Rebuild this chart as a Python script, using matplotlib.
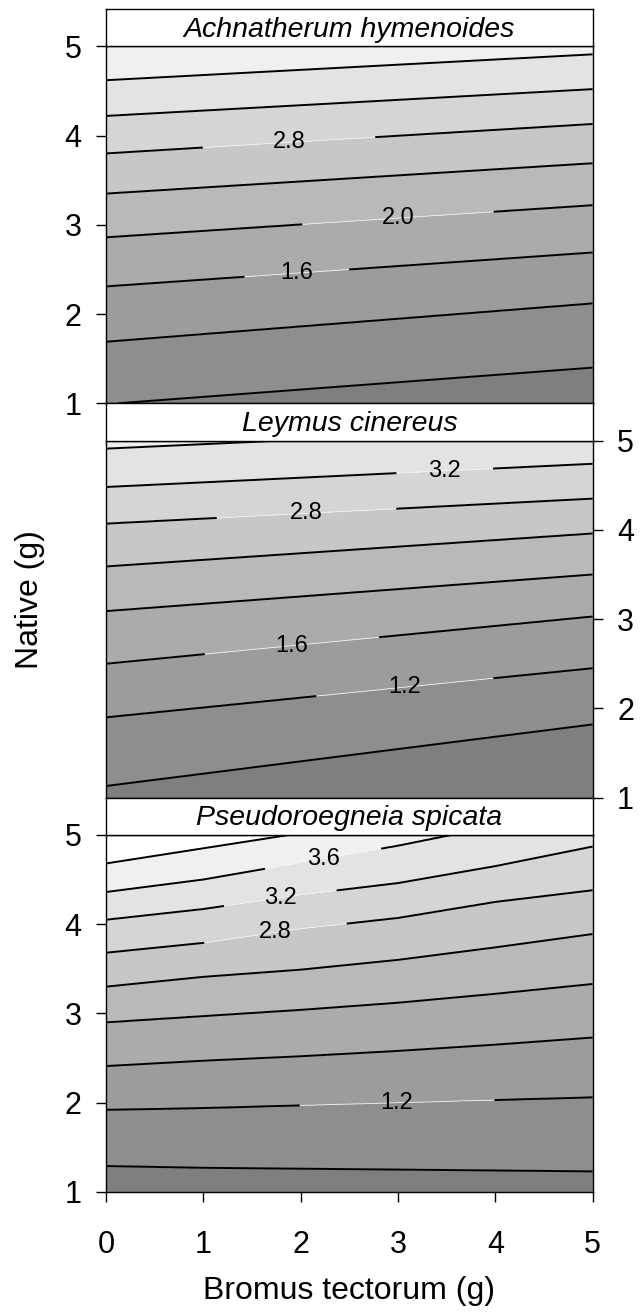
########################################################################################################################
# Contornos - biomassa nativa x Bromus tectorum (tres especies)
########################################################################################################################
import numpy as np
import matplotlib
matplotlib.use('Agg')
from matplotlib import pyplot as plt

plt.rcParams['font.family'] = ['Liberation Sans', 'DejaVu Sans']
########################################################################################################################
# Dados: altura (Native, g) de cada isolinha nos pontos x (Bromus, g)

especies = ['Achnatherum hymenoides', 'Leymus cinereus', 'Pseudoroegneia spicata']

x_ach = [0, 5]
alt_ach = {0.8: [0.99, 1.40], 1.2: [1.69, 2.12], 1.6: [2.31, 2.69], 2.0: [2.86, 3.22],
           2.4: [3.35, 3.69], 2.8: [3.80, 4.13], 3.2: [4.22, 4.52], 3.6: [4.62, 4.91]}

x_ley = [0, 5]
alt_ley = {0.8: [1.13, 1.82], 1.2: [1.90, 2.45], 1.6: [2.50, 3.03], 2.0: [3.09, 3.50],
           2.4: [3.59, 3.96], 2.8: [4.07, 4.35], 3.2: [4.48, 4.74], 3.6: [4.91, 5.16]}

x_pse = [0, 1, 2, 3, 4, 5]
alt_pse = {0.8: [1.29, 1.27, 1.26, 1.25, 1.24, 1.23],
           1.2: [1.92, 1.94, 1.97, 2.00, 2.03, 2.06],
           1.6: [2.41, 2.47, 2.52, 2.58, 2.65, 2.73],
           2.0: [2.90, 2.97, 3.04, 3.12, 3.22, 3.33],
           2.4: [3.30, 3.41, 3.49, 3.60, 3.74, 3.89],
           2.8: [3.68, 3.79, 3.95, 4.07, 4.25, 4.38],
           3.2: [4.05, 4.17, 4.33, 4.46, 4.65, 4.87],
           3.6: [4.36, 4.50, 4.69, 4.88, 5.10, 5.30],
           4.0: [4.68, 4.85, 5.02, 5.20, 5.40, 5.60]}

# rotulos: (nivel, posicao x, largura do vao em pixels)
rot_ach = [(2.8, 1.88, 173), (2.0, 3.00, 192), (1.6, 1.96, 105)]
rot_ley = [(3.2, 3.48, 97), (2.8, 2.06, 180), (1.6, 1.91, 175), (1.2, 3.07, 178)]
rot_pse = [(3.6, 2.23, 118), (3.2, 1.79, 114), (2.8, 1.74, 144), (1.2, 2.99, 195)]

niveis = [0.8, 1.2, 1.6, 2.0, 2.4, 2.8, 3.2, 3.6, 4.0]
cores = ['#7f7f7f', '#8e8e8e', '#9c9c9c', '#ababab', '#b9b9b9',
         '#c7c7c7', '#d5d5d5', '#e3e3e3', '#f0f0f0', '#ffffff']
paineis = [(x_ach, alt_ach, rot_ach), (x_ley, alt_ley, rot_ley), (x_pse, alt_pse, rot_pse)]
########################################################################################################################
# Grade z(x, y) a partir das isolinhas

def grade(xs, alturas):
    lev = sorted(alturas.keys())
    xg = np.linspace(0, 5, 201)
    yg = np.linspace(1, 5, 201)
    H = np.array([np.interp(xg, xs, alturas[n]) for n in lev])
    Z = np.empty((len(yg), len(xg)))
    for j in range(len(xg)):
        h = H[:, j]
        z = np.interp(yg, h, lev)
        s0 = (lev[1] - lev[0]) / (h[1] - h[0])
        s1 = (lev[-1] - lev[-2]) / (h[-1] - h[-2])
        z = np.where(yg < h[0], lev[0] + (yg - h[0]) * s0, z)
        z = np.where(yg > h[-1], lev[-1] + (yg - h[-1]) * s1, z)
        Z[:, j] = z
    return xg, yg, Z

########################################################################################################################
# Figura

W, H_fig = 642, 1316
fig = plt.figure(figsize=(W / 100, H_fig / 100), dpi=100)

esq, dir_ = 106, 592.7
topo0, passo, h_strip, h_plot = 9, 394.3, 37.3, 357

for i, (xs, alturas, rotulos) in enumerate(paineis):
    t_strip = topo0 + i * passo
    t_plot = t_strip + h_strip
    b_plot = t_plot + h_plot

    ax = fig.add_axes([esq / W, 1 - b_plot / H_fig, (dir_ - esq) / W, h_plot / H_fig])
    xg, yg, Z = grade(xs, alturas)
    ax.contourf(xg, yg, Z, levels=[-10] + niveis + [20], colors=cores)
    ax.contour(xg, yg, Z, levels=niveis, colors='#f4f4f4', linewidths=0.6)
    cs = ax.contour(xg, yg, Z, levels=niveis, colors='black', linewidths=1.4)
    for (nv, xl, vao) in rotulos:
        yl = np.interp(xl, xs, alturas[nv])
        txts = ax.clabel(cs, manual=[(xl, yl)], inline=True,
                         inline_spacing=(vao - 33) / 2, fmt='%.1f', fontsize=17)
        for t in txts:
            t.set_rotation(0)
    ax.set_xlim(0, 5)
    ax.set_ylim(1, 5)
    for s in ax.spines.values():
        s.set_linewidth(1.0)
    ax.tick_params(direction='out', length=7.5, width=1.0, labelsize=22, pad=10)
    ax.set_yticks([1, 2, 3, 4, 5])
    if i == 1:
        ax.yaxis.tick_right()
    if i == 2:
        ax.set_xticks([0, 1, 2, 3, 4, 5])
        ax.tick_params(axis='x', pad=20)
    else:
        ax.set_xticks([])

    axs = fig.add_axes([esq / W, 1 - t_plot / H_fig, (dir_ - esq) / W, h_strip / H_fig])
    axs.set_xticks([])
    axs.set_yticks([])
    for s in axs.spines.values():
        s.set_linewidth(1.0)
    axs.text(0.5, 0.45, especies[i], ha='center', va='center', fontsize=20.5,
             style='italic', transform=axs.transAxes)

fig.text(30 / W, 1 - 600 / H_fig, 'Native (g)', rotation=90, ha='center', va='center', fontsize=23)
fig.text((esq + dir_) / 2 / W, 1 - 1291 / H_fig, 'Bromus tectorum (g)', ha='center', va='center', fontsize=23)

plt.savefig('out.png', dpi=100)
########################################################################################################################
